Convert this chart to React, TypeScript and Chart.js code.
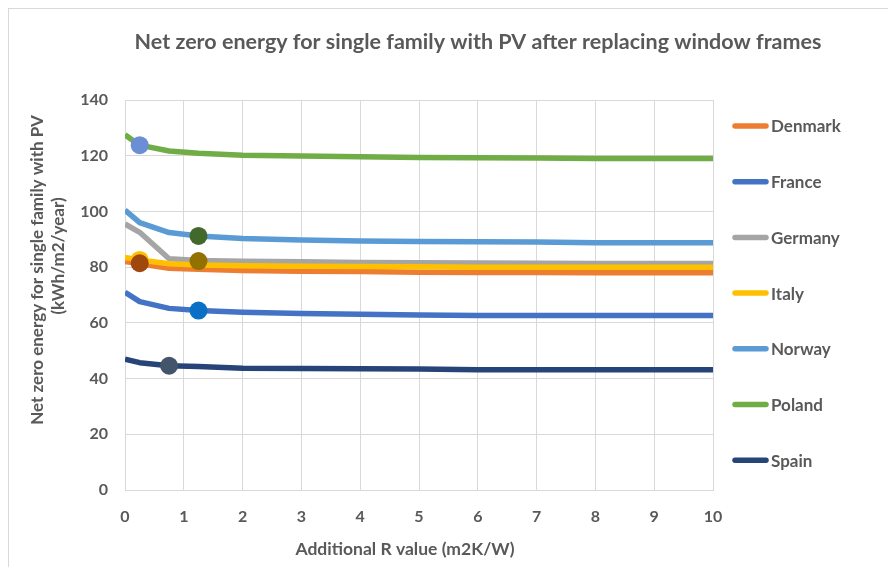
import { useEffect, useRef } from 'react';
import { Chart, registerables } from 'chart.js';
Chart.register(...registerables);

const FONT = 'Lato, "Open Sans", sans-serif';
const TEXT = '#595959';
const GRID = '#d9d9d9';

const chartTitle = 'Net zero energy for single family with PV after replacing window frames';
const xTitle = 'Additional R value (m2K/W)';
const yTitleLines = ['Net zero energy for single family with PV', '(kWh/m2/year)'];

const countries = ['Denmark', 'France', 'Germany', 'Italy', 'Norway', 'Poland', 'Spain'];
const lineColors = ['#ED7D31', '#4472C4', '#A5A5A5', '#FFC000', '#5B9BD5', '#70AD47', '#264478'];

const xValues = [0, 0.25, 0.75, 1.25, 2, 3, 4, 5, 6, 7, 8, 9, 10];
const denmark = [82, 81.2, 79.6, 79.2, 78.8, 78.5, 78.4, 78.2, 78.1, 78.1, 78.0, 78.0, 78.0];
const france = [71, 67.6, 65.2, 64.4, 63.8, 63.4, 63.1, 62.8, 62.6, 62.6, 62.6, 62.6, 62.6];
const germany = [95.5, 92.5, 83, 82.4, 82.1, 81.9, 81.7, 81.6, 81.5, 81.4, 81.3, 81.3, 81.3];
const italy = [83.5, 82.6, 81.2, 80.8, 80.5, 80.3, 80.2, 80.1, 80.0, 80.0, 80.0, 80.0, 80.0];
const norway = [100.5, 96, 92.4, 91.2, 90.3, 89.7, 89.4, 89.2, 89.1, 89.0, 88.8, 88.8, 88.8];
const poland = [127.5, 123.8, 121.7, 120.9, 120.2, 119.9, 119.6, 119.4, 119.3, 119.2, 119.0, 119.0, 119.0];
const spain = [47, 45.7, 44.6, 44.3, 43.7, 43.6, 43.5, 43.4, 43.2, 43.2, 43.2, 43.2, 43.2];
const seriesValues = [denmark, france, germany, italy, norway, poland, spain];

// optimum markers (Denmark, France, Germany, Italy, Norway, Poland, Spain)
const markerX = [0.25, 1.25, 1.25, 0.25, 1.25, 0.25, 0.75];
const markerY = [81.4, 64.4, 82.2, 82.6, 91.2, 123.8, 44.6];
const markerColors = ['#9E480E', '#0A70C6', '#937100', '#FFC000', '#43682B', '#6C8ED4', '#44546A'];

const yTicks = [0, 20, 40, 60, 80, 100, 120, 140];
const xTicks = [0, 1, 2, 3, 4, 5, 6, 7, 8, 9, 10];

const textPlugin = {
  id: 'customText',
  afterDraw(chart: any) {
    const ctx = chart.ctx;
    const area = chart.chartArea;
    ctx.save();
    ctx.fillStyle = TEXT;
    ctx.textAlign = 'center';
    ctx.textBaseline = 'middle';
    ctx.font = `bold 21.5px ${FONT}`;
    ctx.fillText(chartTitle, 478, 42);
    ctx.font = `bold 17.5px ${FONT}`;
    ctx.fillText(xTitle, 405, 549);
    ctx.font = `bold 17px ${FONT}`;
    ctx.save();
    ctx.translate(38, 270);
    ctx.rotate(-Math.PI / 2);
    ctx.fillText(yTitleLines[0], 0, 0);
    ctx.restore();
    ctx.save();
    ctx.translate(59, 256);
    ctx.rotate(-Math.PI / 2);
    ctx.fillText(yTitleLines[1], 0, 0);
    ctx.restore();
    // legend
    const legendX = area.right + 20;
    const legendTop = 126;
    const legendStep = 55.7;
    ctx.textAlign = 'left';
    ctx.font = `bold 17px ${FONT}`;
    countries.forEach((name, i) => {
      const y = legendTop + i * legendStep;
      ctx.strokeStyle = lineColors[i];
      ctx.lineWidth = 5.5;
      ctx.lineCap = 'round';
      ctx.beginPath();
      ctx.moveTo(legendX + 2, y);
      ctx.lineTo(legendX + 33, y);
      ctx.stroke();
      ctx.fillText(name, legendX + 38, y + 1);
    });
    ctx.restore();
  },
};

export default function App() {
  const canvasRef = useRef<HTMLCanvasElement | null>(null);

  useEffect(() => {
    if (!canvasRef.current) return;
    const lineSets = countries.map((name, i) => ({
      label: name,
      data: xValues.map((x, j) => ({ x, y: seriesValues[i][j] })),
      borderColor: lineColors[i],
      backgroundColor: lineColors[i],
      borderWidth: 5.5,
      pointRadius: 0,
      fill: false,
      tension: 0,
      borderJoinStyle: 'round',
      borderCapStyle: 'butt',
      order: 7 - i,
    }));
    const markerSets = countries.map((name, i) => ({
      label: name + ' optimum',
      data: [{ x: markerX[i], y: markerY[i] }],
      showLine: false,
      pointRadius: 9,
      pointHoverRadius: 9,
      pointBorderWidth: 0,
      pointBackgroundColor: markerColors[i],
      borderColor: markerColors[i],
      backgroundColor: markerColors[i],
      order: name === 'Denmark' ? -3 : name === 'Italy' ? -1 : -2,
    }));
    const tickFont = { family: FONT, size: 16, weight: 'bold' as const };
    const chart = new Chart(canvasRef.current, {
      type: 'line',
      data: { datasets: [...lineSets, ...markerSets] as any },
      options: {
        responsive: false,
        animation: false,
        devicePixelRatio: 1,
        layout: { padding: { top: 100, right: 175, left: 0, bottom: 0 } },
        plugins: { legend: { display: false }, tooltip: { enabled: false }, title: { display: false } },
        scales: {
          x: {
            type: 'linear',
            min: 0,
            max: 10,
            afterBuildTicks: (s: any) => { s.ticks = xTicks.map((v) => ({ value: v })); },
            ticks: { color: TEXT, font: tickFont, padding: 17, maxRotation: 0 },
            grid: { color: GRID, lineWidth: 1, drawTicks: false },
            border: { color: GRID, width: 1 },
            afterFit: (s: any) => { s.height = 77; },
          },
          y: {
            type: 'linear',
            min: 0,
            max: 140,
            afterBuildTicks: (s: any) => { s.ticks = yTicks.map((v) => ({ value: v })); },
            ticks: { color: TEXT, font: tickFont, padding: 17 },
            grid: { color: GRID, lineWidth: 1, drawTicks: false },
            border: { color: GRID, width: 1 },
            afterFit: (s: any) => { s.width = 125; },
          },
        },
      } as any,
      plugins: [textPlugin],
    });
    return () => chart.destroy();
  }, []);

  return (
    <div style={{ position: 'fixed', left: 0, top: 0, width: 888, height: 567, overflow: 'hidden', background: '#fff' }}>
      <div style={{ position: 'absolute', left: 8, top: 8, width: 1000, height: 1000, borderLeft: '1px solid #d9d9d9', borderTop: '1px solid #d9d9d9' }} />
      <canvas ref={canvasRef} width={888} height={567} style={{ position: 'absolute', left: 0, top: 0 }} />
    </div>
  );
}
